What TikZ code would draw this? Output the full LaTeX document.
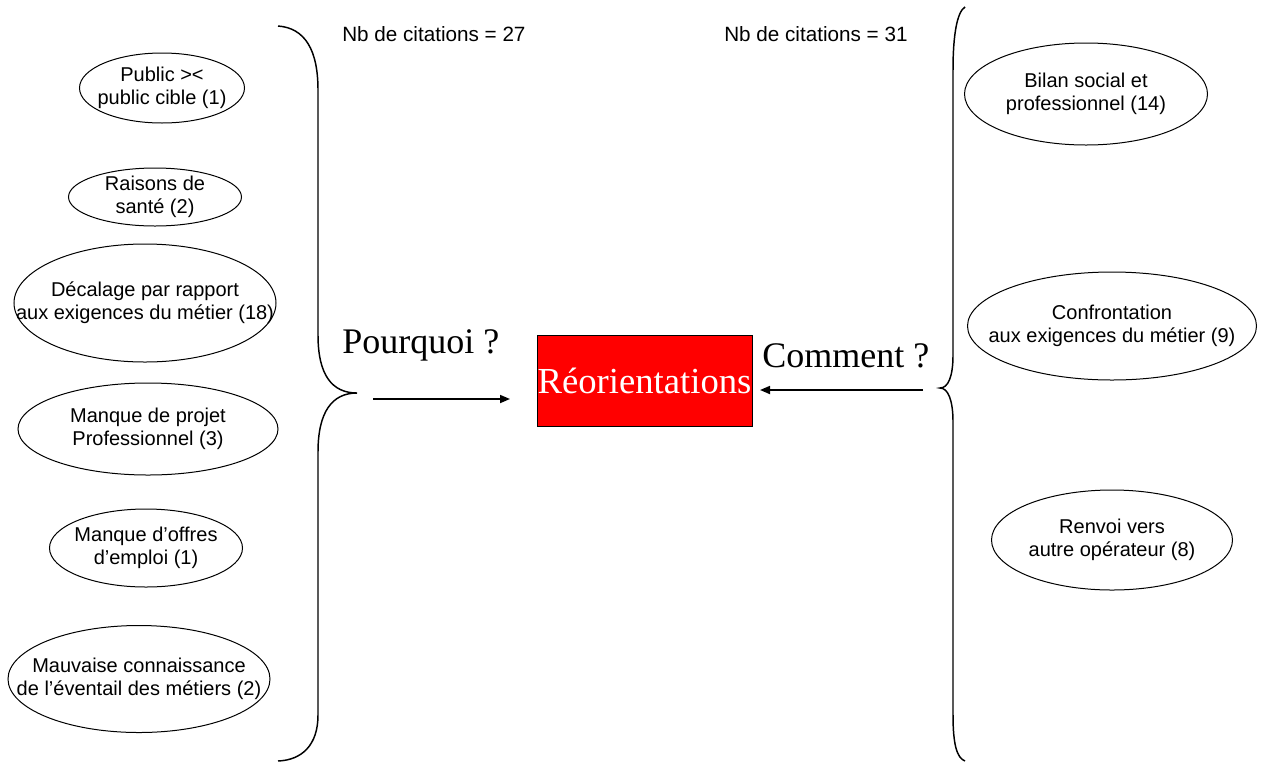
\documentclass[tikz,border=0pt]{standalone}
\usepackage{fontspec}
\setmainfont{Liberation Serif}
\setsansfont{Liberation Sans}
\usetikzlibrary{arrows.meta}

\begin{document}
\begin{tikzpicture}[x=0.75pt, y=-0.75pt,
  bulle/.style={inner sep=0pt, align=center, font=\sffamily\fontsize{15}{17.5}\selectfont},
  titre/.style={font=\fontsize{27}{32}\selectfont, inner sep=0pt, anchor=base west},
  compte/.style={font=\sffamily\fontsize{15.5}{18}\selectfont, inner sep=0pt, anchor=west}]

\useasboundingbox (0,0) rectangle (1269,761);

% pourquoi
\begin{scope}[line width=0.75pt]
\draw (162,88) ellipse [x radius=82.5, y radius=35] node [bulle] (c1) {Public ><\\public cible (1)};
\draw (155,197) ellipse [x radius=86.5, y radius=29] node [bulle] (c2) {Raisons de\\santé (2)};
\draw (145,303) ellipse [x radius=131, y radius=59] node [bulle] (c3) {Décalage par rapport\\aux exigences du métier (18)};
\draw (148,429) ellipse [x radius=130, y radius=46] node [bulle] (c4) {Manque de projet\\Professionnel (3)};
\draw (146,548) ellipse [x radius=96.5, y radius=39] node [bulle] (c5) {Manque d’offres\\d’emploi (1)};
\draw (139,679) ellipse [x radius=131, y radius=53.5] node [bulle] (c6) {Mauvaise connaissance\\de l’éventail des métiers (2)};

% comment
\draw (1086,94) ellipse [x radius=121.5, y radius=51] node [bulle] (m1) {Bilan social et\\professionnel (14)};
\draw (1112,326) ellipse [x radius=144.5, y radius=54] node [bulle] (m2) {Confrontation\\aux exigences du métier (9)};
\draw (1112,540) ellipse [x radius=120.5, y radius=50] node [bulle] (m3) {Renvoi vers\\autre opérateur (8)};
\end{scope}

\node [compte] (n1) at (342,34) {Nb de citations = 27};
\node [compte] (n2) at (724,34) {Nb de citations = 31};

\node [draw, line width=0.75pt, fill=red, text=white, inner sep=0pt,
       minimum width=161.25pt, minimum height=68.25pt,
       font=\fontsize{27.5}{33}\selectfont] (reo) at (644.5,380.5) {Réorientations};

\node [titre] (pq) at (342,353) {Pourquoi ?};
\node [titre] (cm) at (762,367) {Comment ?};

\begin{scope}[line width=1.1pt]
\draw (278,26) .. controls (305,28) and (318,50) .. (318,90) -- (318,335)
  .. controls (318,375) and (332,393) .. (357,393)
  .. controls (332,393) and (318,412) .. (318,452) -- (318,715)
  .. controls (318,745) and (302,760) .. (278,761);
\draw (965,7) .. controls (957,12) and (953,35) .. (953,70) -- (953,355)
  .. controls (953,377) and (948,388) .. (940,388)
  .. controls (948,388) and (953,400) .. (953,422) -- (953,715)
  .. controls (953,745) and (957,758) .. (965,761);
\end{scope}

\coordinate (a1) at (373,399);
\coordinate (b1) at (510,399);
\coordinate (a2) at (923,390);
\coordinate (b2) at (760,390);

\begin{scope}[line width=1.3pt, -{Triangle[length=7.5pt,width=6pt]}]
\draw (a1) -- (b1);
\draw (a2) -- (b2);
\end{scope}

\end{tikzpicture}
\end{document}
